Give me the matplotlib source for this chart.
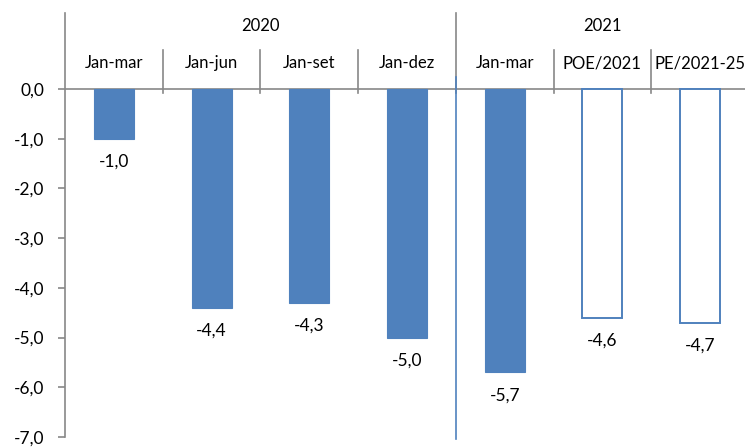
import matplotlib
matplotlib.use("Agg")
import matplotlib.pyplot as plt

# data
periods = ["Jan-mar", "Jan-jun", "Jan-set", "Jan-dez", "Jan-mar", "POE/2021", "PE/2021-25"]
years = ["2020", "2021"]
year_span = [(0, 3), (4, 6)]           # first/last category index of each year
values = [-1.0, -4.4, -4.3, -5.0, -5.7, -4.6, -4.7]
filled = [True, True, True, True, True, False, False]
yticks = [0, -1, -2, -3, -4, -5, -6, -7]

BLUE = "#4F81BD"
GRAY = "#888888"

plt.rcParams["font.family"] = ["Lato", "DejaVu Sans"]
W, H = 745, 448
fig = plt.figure(figsize=(W / 100, H / 100), dpi=100)
# axes box placed in pixels: left 65, right 749, top 13, bottom 437
ax = fig.add_axes([65 / W, (H - 437) / H, (749 - 65) / W, (437 - 13) / H])
ax.set_xlim(-0.5, 6.5)
ax.set_ylim(-7.0, 1.53)

for i, (v, f) in enumerate(zip(values, filled)):
    if f:
        ax.bar(i, v, width=0.41, color=BLUE, edgecolor=BLUE, linewidth=0.8, zorder=3)
    else:
        ax.bar(i, v, width=0.41, facecolor="white", edgecolor=BLUE, linewidth=1.4, zorder=3)
    ax.annotate(f"{v:.1f}".replace(".", ","), (i, v), xytext=(0, -11),
                textcoords="offset points", ha="center", va="top", fontsize=12.5)

# zero line and header separators
ax.axhline(0, color=GRAY, lw=1.2, zorder=2)
for b in [0.5, 1.5, 2.5, 4.5, 5.5]:
    ax.plot([b, b], [0.78, -0.08], color=GRAY, lw=1.2, clip_on=False)
ax.plot([3.5, 3.5], [1.53, -0.08], color=GRAY, lw=1.2, clip_on=False)
ax.plot([3.5, 3.5], [0.25, -7.05], color=BLUE, lw=1.2, clip_on=False, zorder=4)

for i, lab in enumerate(periods):
    ax.text(i, 0.52, lab, ha="center", va="center", fontsize=12)
for yr, (a, b) in zip(years, year_span):
    ax.text((a + b) / 2, 1.26, yr, ha="center", va="center", fontsize=12)

ax.set_yticks(yticks)
ax.set_yticklabels([f"{t:.1f}".replace(".", ",") for t in yticks], fontsize=12.5)
ax.set_xticks([])
for s in ["top", "right", "bottom"]:
    ax.spines[s].set_visible(False)
ax.spines["left"].set_color(GRAY)
ax.spines["left"].set_linewidth(1.2)
ax.tick_params(axis="y", colors=GRAY, length=5, width=1.2, labelcolor="black", pad=10)

fig.savefig("out.png", dpi=100)
